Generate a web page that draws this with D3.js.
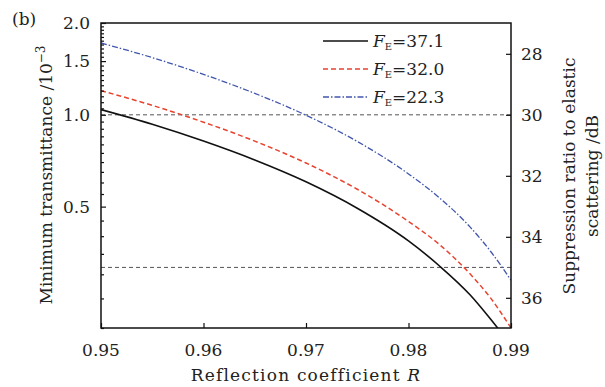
<!DOCTYPE html>
<html>
<head>
<meta charset="utf-8">
<script src="https://cdn.jsdelivr.net/npm/d3@7"></script>
<style>
  body { margin: 0; background: #fff; }
  svg text { font-family: "DejaVu Serif", serif; fill: #222; }
  .tickLabel { font-size: 17px; }
  .axisTitle { font-size: 17px; }
</style>
</head>
<body>
<div id="container"></div>
<script>
// reflection coefficient R (x) and minimum transmittance in units of 1e-3
const R_black = [0.95, 0.955, 0.96, 0.965, 0.97, 0.975, 0.98, 0.983, 0.986, 0.988, 0.9888];
const T_black = [1.04, 0.931, 0.82, 0.711, 0.603, 0.494, 0.386, 0.32, 0.257, 0.214, 0.198];

const R_red = [0.95, 0.955, 0.96, 0.965, 0.97, 0.975, 0.98, 0.983, 0.986, 0.988, 0.99];
const T_red = [1.20, 1.074, 0.946, 0.82, 0.695, 0.57, 0.447, 0.376, 0.301, 0.251, 0.20];

const R_blue = [0.95, 0.955, 0.96, 0.965, 0.97, 0.975, 0.98, 0.983, 0.986, 0.988, 0.99];
const T_blue = [1.72, 1.54, 1.357, 1.176, 0.997, 0.818, 0.64, 0.535, 0.429, 0.357, 0.287];

const seriesNames = ["37.1", "32.0", "22.3"];

const xTicks = [0.95, 0.96, 0.97, 0.98, 0.99];
const yTicks = [0.5, 1.0, 1.5, 2.0];
const dbTicks = [28, 30, 32, 34, 36];
const refLevels = [1.0, 0.316];   // 30 dB and 35 dB

const width = 605, height = 387;
const margin = { top: 23, right: 95, bottom: 59, left: 101 };

const svg = d3.select("#container").append("svg")
  .attr("width", width)
  .attr("height", height);

const x = d3.scaleLinear()
  .domain([0.95, 0.99])
  .range([margin.left, width - margin.right + 1]);

const y = d3.scaleLog()
  .domain([0.2, 2.0])
  .range([height - margin.bottom, margin.top]);

// dB = 30 - 10 log10(T / 1e-3)
const yDb = d3.scaleLinear()
  .domain([30 - 10 * Math.log10(2.0), 30 - 10 * Math.log10(0.2)])
  .range([margin.top, height - margin.bottom]);

const x0 = x.range()[0], x1 = x.range()[1];
const y0 = y.range()[1], y1 = y.range()[0];

svg.append("defs").append("clipPath").attr("id", "clip")
  .append("rect").attr("x", x0).attr("y", y0).attr("width", x1 - x0).attr("height", y1 - y0);

// reference dashed lines
svg.selectAll("line.ref")
  .data(refLevels)
  .enter().append("line")
  .attr("class", "ref")
  .attr("x1", x0).attr("x2", x1)
  .attr("y1", d => y(d)).attr("y2", d => y(d))
  .attr("stroke", "#555")
  .attr("stroke-width", 1)
  .attr("stroke-dasharray", "4,3");

// curves
const series = [
  { R: R_black, T: T_black, colour: "#111", dash: null, w: 1.6 },
  { R: R_red, T: T_red, colour: "#e8432f", dash: "5,3", w: 1.5 },
  { R: R_blue, T: T_blue, colour: "#4256ad", dash: "6,2,1.5,2", w: 1.3 }
];

const line = d3.line()
  .x(d => x(d[0]))
  .y(d => y(d[1]))
  .curve(d3.curveMonotoneX);

svg.append("g").attr("clip-path", "url(#clip)")
  .selectAll("path")
  .data(series)
  .enter().append("path")
  .attr("d", s => line(s.R.map((r, i) => [r, s.T[i]])))
  .attr("fill", "none")
  .attr("stroke", s => s.colour)
  .attr("stroke-width", s => s.w)
  .attr("stroke-dasharray", s => s.dash);

// frame
svg.append("rect")
  .attr("x", x0).attr("y", y0)
  .attr("width", x1 - x0).attr("height", y1 - y0)
  .attr("fill", "none")
  .attr("stroke", "#111")
  .attr("stroke-width", 1.5);

// left axis: inward ticks
svg.append("g")
  .attr("transform", `translate(${x0},0)`)
  .call(d3.axisRight(y).tickValues(yTicks).tickSize(5).tickFormat(""))
  .call(g => g.select(".domain").remove());

const minorVals = d3.range(0.2, 2.001, 0.05).map(v => Math.round(v * 100) / 100)
  .filter(v => !yTicks.includes(v));
svg.append("g")
  .attr("transform", `translate(${x0},0)`)
  .call(d3.axisRight(y).tickValues(minorVals).tickSize(3).tickFormat(""))
  .call(g => g.select(".domain").remove());

svg.selectAll("text.yLabel")
  .data(yTicks)
  .enter().append("text")
  .attr("class", "tickLabel")
  .attr("x", x0 - 11)
  .attr("y", d => y(d) + 6)
  .style("text-anchor", "end")
  .text(d => d3.format(".1f")(d));

// right axis
svg.append("g")
  .attr("transform", `translate(${x1},0)`)
  .call(d3.axisLeft(yDb).tickValues(dbTicks).tickSize(5).tickFormat(""))
  .call(g => g.select(".domain").remove());

svg.selectAll("text.dbLabel")
  .data(dbTicks)
  .enter().append("text")
  .attr("class", "tickLabel")
  .attr("x", x1 + 10)
  .attr("y", d => yDb(d) + 6)
  .text(d => d);

// bottom axis
svg.append("g")
  .attr("transform", `translate(0,${y1})`)
  .call(d3.axisTop(x).tickValues(xTicks).tickSize(5).tickFormat(""))
  .call(g => g.select(".domain").remove());

svg.selectAll("text.xLabel")
  .data(xTicks)
  .enter().append("text")
  .attr("class", "tickLabel")
  .attr("x", d => x(d))
  .attr("y", y1 + 28)
  .style("text-anchor", "middle")
  .text(d => d3.format(".2f")(d));

svg.selectAll(".tick line").attr("stroke", "#111").attr("stroke-width", 1.2);

// axis titles
const xt = svg.append("text")
  .attr("class", "axisTitle")
  .attr("x", (x0 + x1) / 2)
  .attr("y", height - 6)
  .style("letter-spacing", "1.2px")
  .style("text-anchor", "middle");
xt.append("tspan").text("Reflection coefficient ");
xt.append("tspan").style("font-style", "italic").text("R");

const yt = svg.append("text")
  .attr("class", "axisTitle")
  .attr("transform", `translate(52,175) rotate(-90)`)
  .style("text-anchor", "middle");
yt.append("tspan").text("Minimum transmittance /10");
yt.append("tspan").attr("dy", -7).style("font-size", "12px").text("\u22123");

svg.append("text")
  .attr("class", "axisTitle")
  .attr("transform", `translate(575,176) rotate(-90)`)
  .style("text-anchor", "middle")
  .text("Suppression ratio to elastic");

svg.append("text")
  .attr("class", "axisTitle")
  .attr("transform", `translate(598,176) rotate(-90)`)
  .style("text-anchor", "middle")
  .text("scattering /dB");

svg.append("text")
  .attr("class", "axisTitle")
  .attr("x", 12)
  .attr("y", 25)
  .text("(b)");

// legend
const legend = svg.append("g");
series.forEach((s, i) => {
  const ly = 41 + i * 28;
  legend.append("line")
    .attr("x1", 323).attr("x2", 368)
    .attr("y1", ly).attr("y2", ly)
    .attr("stroke", s.colour)
    .attr("stroke-width", s.w)
    .attr("stroke-dasharray", s.dash);
  const t = legend.append("text")
    .attr("class", "axisTitle")
    .attr("x", 373)
    .attr("y", ly + 6)
    .style("font-size", "17px");
  t.append("tspan").style("font-style", "italic").text("F");
  t.append("tspan").attr("dy", 3).style("font-size", "10px").text("E");
  t.append("tspan").attr("dy", -3).text("=" + seriesNames[i]);
});
</script>
</body>
</html>
